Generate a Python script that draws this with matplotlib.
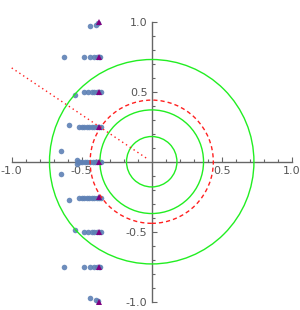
import numpy as np
import matplotlib
matplotlib.use('Agg')
import matplotlib.pyplot as plt
from matplotlib.patches import Circle
from matplotlib.ticker import FixedLocator, FixedFormatter

# blue points, read row by row (top to bottom)
blue_x = [-0.44, -0.40, -0.385,
          -0.624, -0.481, -0.441, -0.41, -0.393, -0.38, -0.369,
          -0.546, -0.481, -0.452, -0.429, -0.41, -0.393, -0.379, -0.364,
          -0.589, -0.517, -0.50, -0.481, -0.464, -0.446, -0.429, -0.41, -0.393, -0.379, -0.364,
          -0.645, -0.535, -0.524, -0.512, -0.495, -0.476, -0.46, -0.441, -0.421, -0.405, -0.388, -0.374, -0.36, -0.535, -0.645,
          -0.589, -0.517, -0.50, -0.481, -0.464, -0.446, -0.429, -0.41, -0.393, -0.379, -0.364,
          -0.546, -0.481, -0.452, -0.429, -0.41, -0.393, -0.379, -0.364,
          -0.624, -0.481, -0.441, -0.41, -0.393, -0.38, -0.369,
          -0.44, -0.395, -0.385]
blue_y = [0.966, 0.98, 0.99,
          0.75, 0.75, 0.75, 0.75, 0.75, 0.75, 0.75,
          0.48, 0.5, 0.5, 0.5, 0.5, 0.5, 0.5, 0.5,
          0.265, 0.25, 0.25, 0.25, 0.25, 0.25, 0.25, 0.25, 0.25, 0.25, 0.25,
          0.08, 0.014, 0.0, 0.0, 0.0, 0.0, 0.0, 0.0, 0.0, 0.0, 0.0, 0.0, 0.0, -0.018, -0.085,
          -0.275, -0.26, -0.26, -0.26, -0.26, -0.26, -0.26, -0.26, -0.26, -0.26, -0.26,
          -0.49, -0.505, -0.505, -0.505, -0.505, -0.505, -0.505, -0.505,
          -0.755, -0.755, -0.755, -0.755, -0.755, -0.755, -0.755,
          -0.976, -0.99, -0.995]

# purple triangles
tri_x = [-0.38, -0.38, -0.38, -0.38, -0.38, -0.38, -0.38, -0.38, -0.38]
tri_y = [1.0, 0.75, 0.5, 0.25, 0.0, -0.25, -0.5, -0.75, -1.0]

green_r = [0.18, 0.37, 0.73]
red_r = 0.44

line_x = [-1.0, -0.03]
line_y = [0.67, 0.02]

major = [-1.0, -0.5, 0.5, 1.0]
major_lbl = ['-1.0', '-0.5', '0.5', '1.0']
minor = [-0.9, -0.8, -0.7, -0.6, -0.4, -0.3, -0.2, -0.1,
         0.1, 0.2, 0.3, 0.4, 0.6, 0.7, 0.8, 0.9]

fig = plt.figure(figsize=(3.0, 3.1), dpi=100)
ax = fig.add_axes([0, 0, 1, 1])
ax.set_xlim(-1.0836, 1.059)
ax.set_ylim(-1.059, 1.155)
ax.set_aspect('equal')

for r in green_r:
    ax.add_patch(Circle((0, 0), r, fill=False, ec='#22ee22', lw=1.0, zorder=3))
ax.add_patch(Circle((0, 0), red_r, fill=False, ec='#ff2020', lw=1.0,
                    ls=(0, (3, 2.2)), zorder=3))
ax.plot(line_x, line_y, color='#ff2020', lw=1.0, ls=(0, (1, 2.3)), zorder=3)

ax.plot(blue_x, blue_y, 'o', color='#5E81B5', alpha=0.9, ms=4.0, mew=0, zorder=2)
ax.plot(tri_x, tri_y, '^', color='#800080', ms=4.5, mew=0, zorder=4)

axc = '#666666'
for s in ['top', 'right']:
    ax.spines[s].set_visible(False)
for s in ['left', 'bottom']:
    ax.spines[s].set_position(('data', 0))
    ax.spines[s].set_bounds(-1, 1)
    ax.spines[s].set_color(axc)
    ax.spines[s].set_linewidth(1.0)
    ax.spines[s].set_zorder(1)

for a in [ax.xaxis, ax.yaxis]:
    a.set_major_locator(FixedLocator(major))
    a.set_major_formatter(FixedFormatter(major_lbl))
    a.set_minor_locator(FixedLocator(minor))
ax.tick_params(which='both', direction='in', color=axc, width=0.8,
               labelsize=8, labelcolor='#555555')
ax.tick_params(which='major', length=3.5, pad=3)
ax.tick_params(which='minor', length=2)

fig.savefig('out.png', dpi=100)
